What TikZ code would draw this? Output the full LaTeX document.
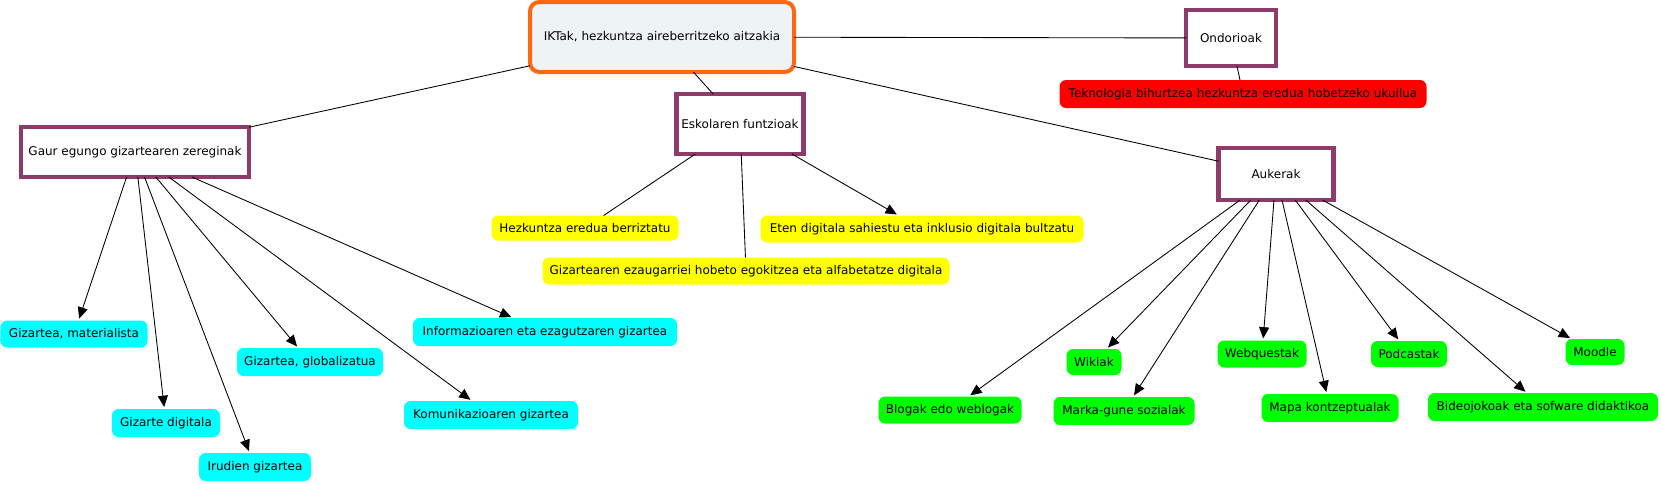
\documentclass[tikz,border=0pt]{standalone}
\usepackage{fontspec}
\setmainfont{DejaVu Sans}
\usetikzlibrary{arrows.meta}
\definecolor{plum}{RGB}{142,59,106}
\definecolor{orng}{RGB}{255,104,16}
\definecolor{mainfill}{RGB}{238,243,245}
\definecolor{cyanfill}{RGB}{0,255,255}
\definecolor{greenfill}{RGB}{0,255,0}
\definecolor{yellowfill}{RGB}{255,255,0}
\definecolor{redfill}{RGB}{255,0,0}
\begin{document}
\begin{tikzpicture}[x=0.75pt,y=-0.75pt,
  base/.style={font=\fontsize{9}{11}\selectfont, inner sep=0pt, outer sep=0pt, align=center},
  sz/.style 2 args={minimum width=#1*0.75pt, minimum height=#2*0.75pt},
  mainbox/.style={base, draw=orng, line width=3pt, rounded corners=7pt, fill=mainfill},
  concept/.style={base, draw=plum, line width=3.2pt, fill=white},
  leaf/.style={base, rounded corners=5pt},
  cyanleaf/.style={leaf, fill=cyanfill},
  greenleaf/.style={leaf, fill=greenfill},
  yellowleaf/.style={leaf, fill=yellowfill},
  redleaf/.style={leaf, fill=redfill},
  link/.style={draw=black, line width=0.65pt},
  arr/.style={link, -{Triangle[length=8.5pt,width=7.5pt]}, shorten >=1.5pt}
]
\fill[white] (0,0) rectangle (1661,483);
\useasboundingbox (0,0) rectangle (1661,483);

% nodes
\node[mainbox, sz={264}{70}] (main) at (662,37) {IKTak, hezkuntza aireberritzeko aitzakia};
\node[concept, sz={90}{56}] (ondo) at (1231,38) {Ondorioak};
\node[redleaf, sz={367}{28}] (tekno) at (1243,94) {Teknologia bihurtzea hezkuntza eredua hobetzeko ukuilua};
\node[concept, sz={228}{50}] (gaur) at (135,152) {Gaur egungo gizartearen zereginak};
\node[concept, sz={127}{60}] (esko) at (740,124) {Eskolaren funtzioak};
\node[concept, sz={115}{52}] (auke) at (1276,174) {Aukerak};

\node[yellowleaf, sz={187}{25}] (hezk) at (585,228) {Hezkuntza eredua berriztatu};
\node[yellowleaf, sz={323}{27}] (eten) at (922,229) {Eten digitala sahiestu eta inklusio digitala bultzatu};
\node[yellowleaf, sz={407}{27}] (gizez) at (746,271) {Gizartearen ezaugarriei hobeto egokitzea eta alfabetatze digitala};

\node[cyanleaf, sz={147}{27}] (mater) at (74,334) {Gizartea, materialista};
\node[cyanleaf, sz={108}{28}] (gdig) at (166,423) {Gizarte digitala};
\node[cyanleaf, sz={112}{28}] (irud) at (255,467) {Irudien gizartea};
\node[cyanleaf, sz={146}{28}] (glob) at (310,362) {Gizartea, globalizatua};
\node[cyanleaf, sz={174}{28}] (komu) at (491,415) {Komunikazioaren gizartea};
\node[cyanleaf, sz={264}{28}] (info) at (545,332) {Informazioaren eta ezagutzaren gizartea};

\node[greenleaf, sz={143}{27}] (blog) at (950,410) {Blogak edo weblogak};
\node[greenleaf, sz={55}{26}] (wiki) at (1094,362) {Wikiak};
\node[greenleaf, sz={141}{28}] (marka) at (1124,411) {Marka-gune sozialak};
\node[greenleaf, sz={89}{27}] (webq) at (1262,354) {Webquestak};
\node[greenleaf, sz={137}{28}] (mapa) at (1330,408) {Mapa kontzeptualak};
\node[greenleaf, sz={76}{26}] (podc) at (1409,354) {Podcastak};
\node[greenleaf, sz={230}{28}] (bideo) at (1543,407) {Bideojokoak eta sofware didaktikoa};
\node[greenleaf, sz={59}{26}] (moodle) at (1595,352) {Moodle};

% connectors from the main node
\draw[link] (main) -- (ondo);
\draw[link] (main) -- (gaur);
\draw[link] (main) -- (esko);
\draw[link] (main) -- (auke);
\draw[link] (ondo) -- (tekno);

% Eskolaren funtzioak
\draw[link] (esko) -- (hezk);
\draw[arr] (esko) -- (eten);
\draw[link] (esko) -- (gizez);

% Gaur egungo gizartearen zereginak
\draw[arr] (gaur) -- (mater);
\draw[arr] (gaur) -- (gdig);
\draw[arr] (gaur) -- (irud);
\draw[arr] (gaur) -- (glob);
\draw[arr] (gaur) -- (komu);
\draw[arr] (gaur) -- (info);

% Aukerak
\draw[arr] (auke) -- (blog);
\draw[arr] (auke) -- (wiki);
\draw[arr] (auke) -- (marka);
\draw[arr] (auke) -- (webq);
\draw[arr] (auke) -- (mapa);
\draw[arr] (auke) -- (podc);
\draw[arr] (auke) -- (bideo);
\draw[arr] (auke) -- (moodle);
\end{tikzpicture}
\end{document}
